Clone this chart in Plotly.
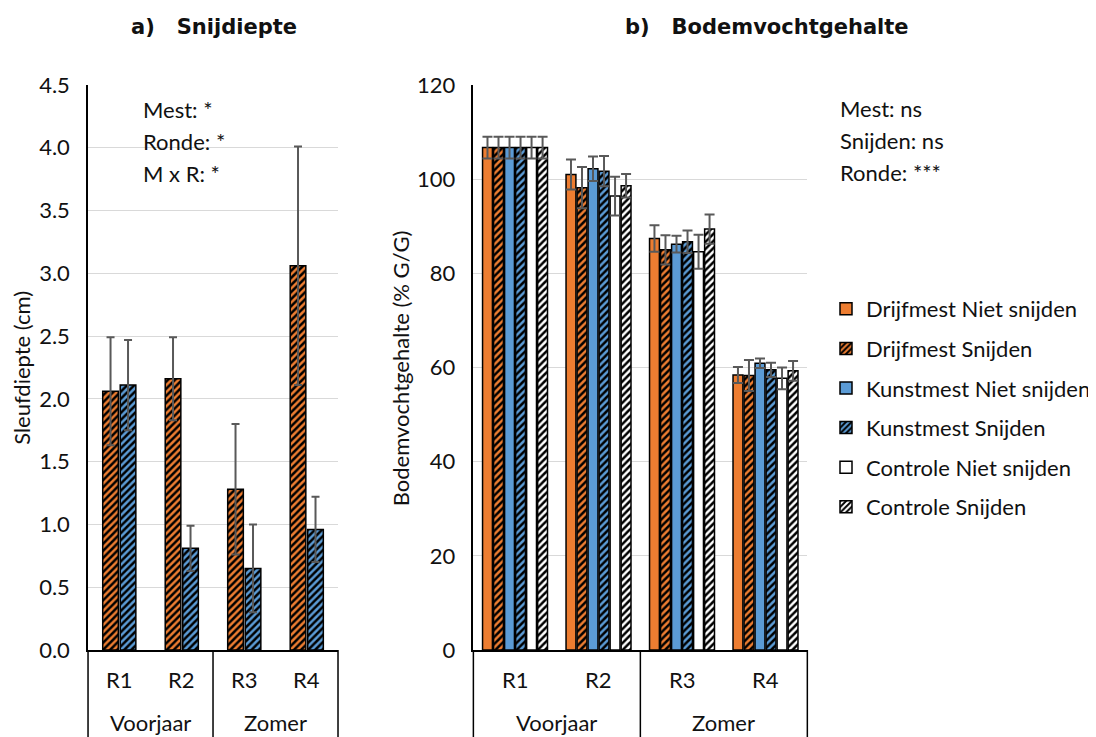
import plotly.graph_objects as go

# ---------------- data ----------------
rondes = ["R1", "R2", "R3", "R4"]
seizoenen = ["Voorjaar", "Zomer"]
seizoen_pos = [0.5, 2.5]

# a) Snijdiepte (cm)
sd_drijf_snij = [2.06, 2.16, 1.28, 3.06]
sd_drijf_snij_err = [0.43, 0.33, 0.52, 0.95]
sd_kunst_snij = [2.11, 0.81, 0.65, 0.96]
sd_kunst_snij_err = [0.36, 0.18, 0.35, 0.26]

# b) Bodemvochtgehalte (% G/G)
bv_names = ["Drijfmest Niet snijden", "Drijfmest Snijden", "Kunstmest Niet snijden",
            "Kunstmest Snijden", "Controle Niet snijden", "Controle Snijden"]
bv_drijf_niet = [106.7, 101.0, 87.4, 58.4]
bv_drijf_niet_err = [2.3, 3.2, 2.8, 1.7]
bv_drijf_snij = [106.7, 98.2, 85.0, 58.3]
bv_drijf_snij_err = [2.3, 4.4, 3.1, 3.3]
bv_kunst_niet = [106.7, 102.2, 86.2, 60.9]
bv_kunst_niet_err = [2.3, 2.6, 1.8, 1.0]
bv_kunst_snij = [106.7, 101.7, 86.7, 59.5]
bv_kunst_snij_err = [2.3, 3.2, 2.4, 1.5]
bv_contr_niet = [106.7, 96.4, 84.6, 57.7]
bv_contr_niet_err = [2.3, 4.1, 3.6, 2.3]
bv_contr_snij = [106.7, 98.6, 89.4, 59.3]
bv_contr_snij_err = [2.3, 2.5, 3.1, 2.1]

sd_ticks = [0, 0.5, 1.0, 1.5, 2.0, 2.5, 3.0, 3.5, 4.0, 4.5]
bv_ticks = [0, 20, 40, 60, 80, 100, 120]

left_notes = ["Mest: *", "Ronde: *", "M x R: *"]
right_notes = ["Mest: ns", "Snijden: ns", "Ronde: ***"]

# ---------------- style ----------------
ORANGE = "#ED7D31"
BLUE = "#5B9BD5"
WHITE = "#FFFFFF"
ERRC = "#595959"
GRID = "#D9D9D9"
FONT = "Lato"
TFONT = "DejaVu Sans"
TXT = "#111111"
FS = 22

OFF = 8                      # page body margin
FW, FH = 1096 - OFF, 737 - OFF
TOP, BOT = 85, 650           # plot area top/bottom in page pixels
PH = BOT - TOP


def px(x):
    return (x - OFF) / FW


def py(y):
    return (BOT - y) / PH


L_DOM = [px(89), px(342)]
R_DOM = [px(479), px(817)]

xpos = list(range(len(rondes)))

fig = go.Figure()


def bar(x, y, err, name, color, hatched, xaxis, yaxis, width, offset, cap, showlegend, group):
    pattern = dict(shape="/" if hatched else "", fgcolor="black", bgcolor=color,
                   size=5, solidity=0.5, fillmode="replace")
    return go.Bar(
        x=x, y=y, name=name, xaxis=xaxis, yaxis=yaxis,
        width=width, offset=offset,
        marker=dict(color=color, line=dict(color="black", width=1.5), pattern=pattern),
        error_y=dict(type="data", array=err, visible=True, color=ERRC, thickness=2, width=cap),
        showlegend=showlegend, legendgroup=group,
    )


# left panel
fig.add_trace(bar(xpos, sd_drijf_snij, sd_drijf_snij_err, "Drijfmest Snijden", ORANGE, True,
                  "x", "y", 0.25, -0.265, 4, False, "ls1"))
fig.add_trace(bar(xpos, sd_kunst_snij, sd_kunst_snij_err, "Kunstmest Snijden", BLUE, True,
                  "x", "y", 0.25, 0.015, 4, False, "ls2"))

# right panel
series = [
    (bv_drijf_niet, bv_drijf_niet_err, ORANGE, False),
    (bv_drijf_snij, bv_drijf_snij_err, ORANGE, True),
    (bv_kunst_niet, bv_kunst_niet_err, BLUE, False),
    (bv_kunst_snij, bv_kunst_snij_err, BLUE, True),
    (bv_contr_niet, bv_contr_niet_err, WHITE, False),
    (bv_contr_snij, bv_contr_snij_err, WHITE, True),
]
pitch = 0.132
for i, (vals, errs, col, hatch) in enumerate(series):
    fig.add_trace(bar(xpos, vals, errs, bv_names[i], col, hatch, "x2", "y2",
                      0.118, -0.39 + i * pitch, 5, True, "g%d" % i))

axis_common = dict(showgrid=False, zeroline=False, showline=True, linecolor="black",
                   linewidth=1.5, showticklabels=False, ticks="", range=[-0.5, 3.5],
                   fixedrange=True)
fig.update_layout(
    width=FW, height=FH,
    margin=dict(l=0, r=0, t=TOP - OFF, b=FH - (BOT - OFF)),
    paper_bgcolor="white", plot_bgcolor="white",
    barmode="overlay",
    font=dict(family=FONT, size=FS, color=TXT),
    xaxis=dict(domain=L_DOM, anchor="y", **axis_common),
    xaxis2=dict(domain=R_DOM, anchor="y2", **axis_common),
    yaxis=dict(range=[0, 4.5], tickvals=sd_ticks, ticktext=["%.1f" % v for v in sd_ticks],
               showgrid=True, gridcolor=GRID, gridwidth=1.2, zeroline=False,
               showline=True, linecolor="black", linewidth=1.5, ticks="",
               ticklabelstandoff=12, anchor="x", fixedrange=True),
    yaxis2=dict(range=[0, 120], tickvals=bv_ticks, showgrid=True, gridcolor=GRID,
                gridwidth=1.2, zeroline=False, showline=True, linecolor="black",
                linewidth=1.5, ticks="", ticklabelstandoff=12, anchor="x2", fixedrange=True),
    legend=dict(x=px(836), y=py(288), xanchor="left", yanchor="top",
                font=dict(family=FONT, size=FS, color=TXT), tracegroupgap=8,
                itemwidth=30, bgcolor="rgba(0,0,0,0)"),
)

ann = []
shapes = []
for xr, yr in (("x", "y"), ("x2", "y2")):
    for r, xp in zip(rondes, xpos):
        ann.append(dict(x=xp, y=-0.053, xref=xr, yref=yr + " domain", text=r,
                        showarrow=False, xanchor="center", yanchor="middle"))
    for s, xp in zip(seizoenen, seizoen_pos):
        ann.append(dict(x=xp, y=-0.128, xref=xr, yref=yr + " domain", text=s,
                        showarrow=False, xanchor="center", yanchor="middle"))
    for xd in (0, 0.5, 1):
        shapes.append(dict(type="line", xref=xr + " domain", yref=yr + " domain",
                           x0=xd, x1=xd, y0=0, y1=-0.2,
                           line=dict(color="black", width=1.5)))

# titles
ann.append(dict(x=px(216), y=py(27), xref="paper", yref="paper",
                text="<b>a)   Snijdiepte</b>", showarrow=False,
                xanchor="center", yanchor="middle",
                font=dict(family=TFONT, size=21, color=TXT)))
ann.append(dict(x=px(776), y=py(27), xref="paper", yref="paper",
                text="<b>b)   Bodemvochtgehalte</b>", showarrow=False,
                xanchor="center", yanchor="middle",
                font=dict(family=TFONT, size=21, color=TXT)))
# axis titles
ann.append(dict(x=px(21), y=py(368), xref="paper", yref="paper",
                text="Sleufdiepte (cm)", textangle=-90, showarrow=False,
                xanchor="center", yanchor="middle"))
ann.append(dict(x=px(405), y=py(368), xref="paper", yref="paper",
                text="Bodemvochtgehalte (% G/G)", textangle=-90, showarrow=False,
                xanchor="center", yanchor="middle"))

# significance notes
for i, t in enumerate(left_notes):
    ann.append(dict(x=px(143), y=py(109 + 32 * i), xref="paper", yref="paper",
                    text=t, showarrow=False, xanchor="left", yanchor="middle"))
for i, t in enumerate(right_notes):
    ann.append(dict(x=px(848), y=py(108 + 32 * i), xref="paper", yref="paper",
                    text=t, showarrow=False, xanchor="left", yanchor="middle"))

fig.update_layout(annotations=ann, shapes=shapes)
fig.write_html("out.html")
